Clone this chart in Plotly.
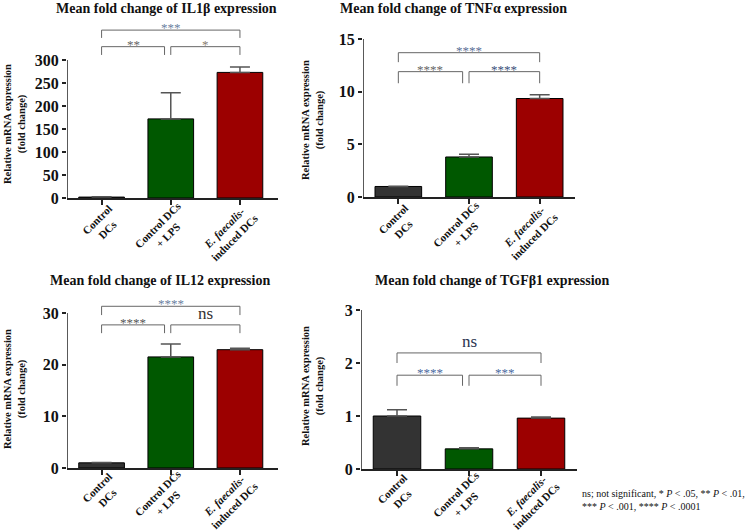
import plotly.graph_objects as go

# ---------------- data ----------------
groups = ["Control<br>DCs", "Control DCs<br>+ LPS", "<i>E. faecalis</i>-<br>induced DCs"]
titles = ["Mean fold change of IL1β expression", "Mean fold change of TNFα expression",
          "Mean fold change of IL12 expression", "Mean fold change of TGFβ1 expression"]
il1b_mean = [2.0, 172.0, 273.0]
il1b_err = [0.5, 57.0, 12.0]
tnfa_mean = [1.0, 3.8, 9.35]
tnfa_err = [0.03, 0.25, 0.35]
il12_mean = [1.0, 21.5, 22.9]
il12_err = [0.05, 2.5, 0.3]
tgfb1_mean = [1.0, 0.38, 0.96]
tgfb1_err = [0.12, 0.02, 0.02]
yticks = [[0, 50, 100, 150, 200, 250, 300], [0, 5, 10, 15], [0, 10, 20, 30], [0, 1, 2, 3]]
# significance labels per panel: (left inner, right inner, outer)
sig = [["**", "*", "***"], ["****", "****", "****"], ["****", "ns", "****"], ["****", "***", "ns"]]
sig_colors = [["#666666", "#8a8070", "#6b7fa0"],
              ["#666666", "#3a4f7a", "#5a6f96"],
              ["#555555", "#333333", "#6b7fa0"],
              ["#4a6aa0", "#4a6aa0", "#2a3550"]]
footnote = "ns; not significant, * <i>P</i> &lt; .05, ** <i>P</i> &lt; .01,<br>*** <i>P</i> &lt; .001, **** <i>P</i> &lt; .0001"

means = [il1b_mean, tnfa_mean, il12_mean, tgfb1_mean]
errs = [il1b_err, tnfa_err, il12_err, tgfb1_err]

# ---------------- layout geometry (pixels) ----------------
W, H = 750, 531
FONT = "Liberation Serif, Times New Roman, serif"
bar_colors = ["#333333", "#005800", "#9c0000"]
panels = [
    dict(xl=67, xr=278, y0=198, ppu=138 / 300, rmax=385, xrr=2.55, lab_dy=0,
         title_xy=(166, 9), ytitle_xy=(15, 124),
         br=dict(outer=(365, 348), inner=(329, 311))),
    dict(xl=363, xr=575, y0=197, ppu=158 / 15, rmax=15, xrr=2.5, lab_dy=0,
         title_xy=(453, 9), ytitle_xy=(313, 120),
         br=dict(outer=(13.7, 12.8), inner=(11.9, 10.8))),
    dict(xl=67, xr=278, y0=468, ppu=155 / 30, rmax=35, xrr=2.55, lab_dy=-2,
         title_xy=(160, 280), ytitle_xy=(15, 389),
         br=dict(outer=(31.3, 29.6), inner=(27.7, 26.1))),
    dict(xl=361, xr=577, y0=469, ppu=159 / 3, rmax=3, xrr=2.5, lab_dy=-2,
         title_xy=(492, 280), ytitle_xy=(313, 386),
         br=dict(outer=(2.19, 2.0), inner=(1.77, 1.57))),
]
label_off = [(0, 27), (-8, 32), (-10, 34)]

fig = go.Figure()
shapes = []
annotations = []

for i, p in enumerate(panels):
    ax = "" if i == 0 else str(i + 1)
    xa, ya = "x" + ax, "y" + ax
    top_px = p["y0"] - p["rmax"] * p["ppu"]
    xdom = [p["xl"] / W, p["xr"] / W]
    ydom = [1 - p["y0"] / H, 1 - top_px / H]
    fig.add_trace(go.Bar(
        x=[0, 1, 2], y=means[i], width=0.66,
        marker=dict(color=bar_colors, line=dict(color="black", width=1)),
        error_y=dict(type="data", array=errs[i], symmetric=False, arrayminus=[0, 0, 0],
                     color="#555555", thickness=1.5, width=10),
        xaxis=xa, yaxis=ya, showlegend=False, hoverinfo="skip"))
    fig.layout["xaxis" + ax] = dict(
        domain=xdom, range=[-0.5, p["xrr"]], anchor=ya, tickvals=[0, 1, 2],
        showticklabels=False, ticks="outside", ticklen=5, tickwidth=1.5, tickcolor="#222",
        showline=True, linecolor="#222", linewidth=1.5, showgrid=False, zeroline=False)
    fig.layout["yaxis" + ax] = dict(
        domain=ydom, range=[0, p["rmax"]], anchor=xa, tickvals=yticks[i],
        ticks="outside", ticklen=4, tickwidth=1.5, tickcolor="#222",
        showline=False, showgrid=False, zeroline=False,
        tickfont=dict(family=FONT, size=16, color="#111", weight="bold"))
    shapes.append(dict(type="line", xref=xa, yref=ya, x0=-0.5, x1=-0.5, y0=0, y1=yticks[i][-1],
                       line=dict(color="#222", width=1.5)))
    ot, ob = p["br"]["outer"]
    it, ib = p["br"]["inner"]
    bc = dict(color="#666666", width=1)
    shapes.append(dict(type="path", xref=xa, yref=ya,
                       path=f"M 0,{ob} L 0,{ot} L 2,{ot} L 2,{ob}", line=bc))
    shapes.append(dict(type="path", xref=xa, yref=ya,
                       path=f"M 0,{ib} L 0,{it} L 0.91,{it} L 0.91,{ib}", line=bc))
    shapes.append(dict(type="path", xref=xa, yref=ya,
                       path=f"M 1,{ib} L 1,{it} L 2,{it} L 2,{ib}", line=bc))
    for j, (xx, yy) in enumerate([(0.455, it), (1.5, it), (1.0, ot)]):
        txt = sig[i][j]
        if txt == "ns":
            annotations.append(dict(xref=xa, yref=ya, x=xx, y=yy, text=txt, showarrow=False,
                                    xanchor="center", yanchor="bottom", yshift=1, borderpad=0,
                                    font=dict(family=FONT, size=17, color=sig_colors[i][j])))
        else:
            annotations.append(dict(xref=xa, yref=ya, x=xx, y=yy, text=txt, showarrow=False,
                                    xanchor="center", yanchor="top", yshift=11, borderpad=0,
                                    font=dict(family=FONT, size=13, color=sig_colors[i][j])))
    for k, g in enumerate(groups):
        dx, dy = label_off[k]
        annotations.append(dict(xref=xa, yref=ya, x=k, y=0, text=g, showarrow=False,
                                textangle=-45, xanchor="center", yanchor="middle", align="center",
                                xshift=dx, yshift=-(dy + p["lab_dy"]), borderpad=0,
                                font=dict(family=FONT, size=11, color="#111", weight="bold")))
    tx, ty = p["title_xy"]
    annotations.append(dict(xref="paper", yref="paper", x=tx / W, y=1 - ty / H, text=titles[i],
                            showarrow=False, xanchor="center", yanchor="middle", borderpad=0,
                            font=dict(family=FONT, size=14, color="#111", weight="bold")))
    yx, yy = p["ytitle_xy"]
    annotations.append(dict(xref="paper", yref="paper", x=yx / W, y=1 - yy / H,
                            text="Relative mRNA expression<br>(fold change)", textangle=-90,
                            showarrow=False, xanchor="center", yanchor="middle", align="center",
                            font=dict(family=FONT, size=10.5, color="#111", weight="bold")))

annotations.append(dict(xref="paper", yref="paper", x=580 / W, y=1 - 486 / H, text=footnote,
                        showarrow=False, xanchor="left", yanchor="top", align="left",
                        font=dict(family=FONT, size=10, color="#111")))

fig.update_layout(width=W, height=H, margin=dict(l=0, r=0, t=0, b=0, pad=0, autoexpand=False),
                  paper_bgcolor="white", plot_bgcolor="white",
                  shapes=shapes, annotations=annotations, bargap=0.3)
fig.write_html("out.html", config={"displayModeBar": False},
               post_script="document.body.style.margin='0';document.body.style.padding='0';")
